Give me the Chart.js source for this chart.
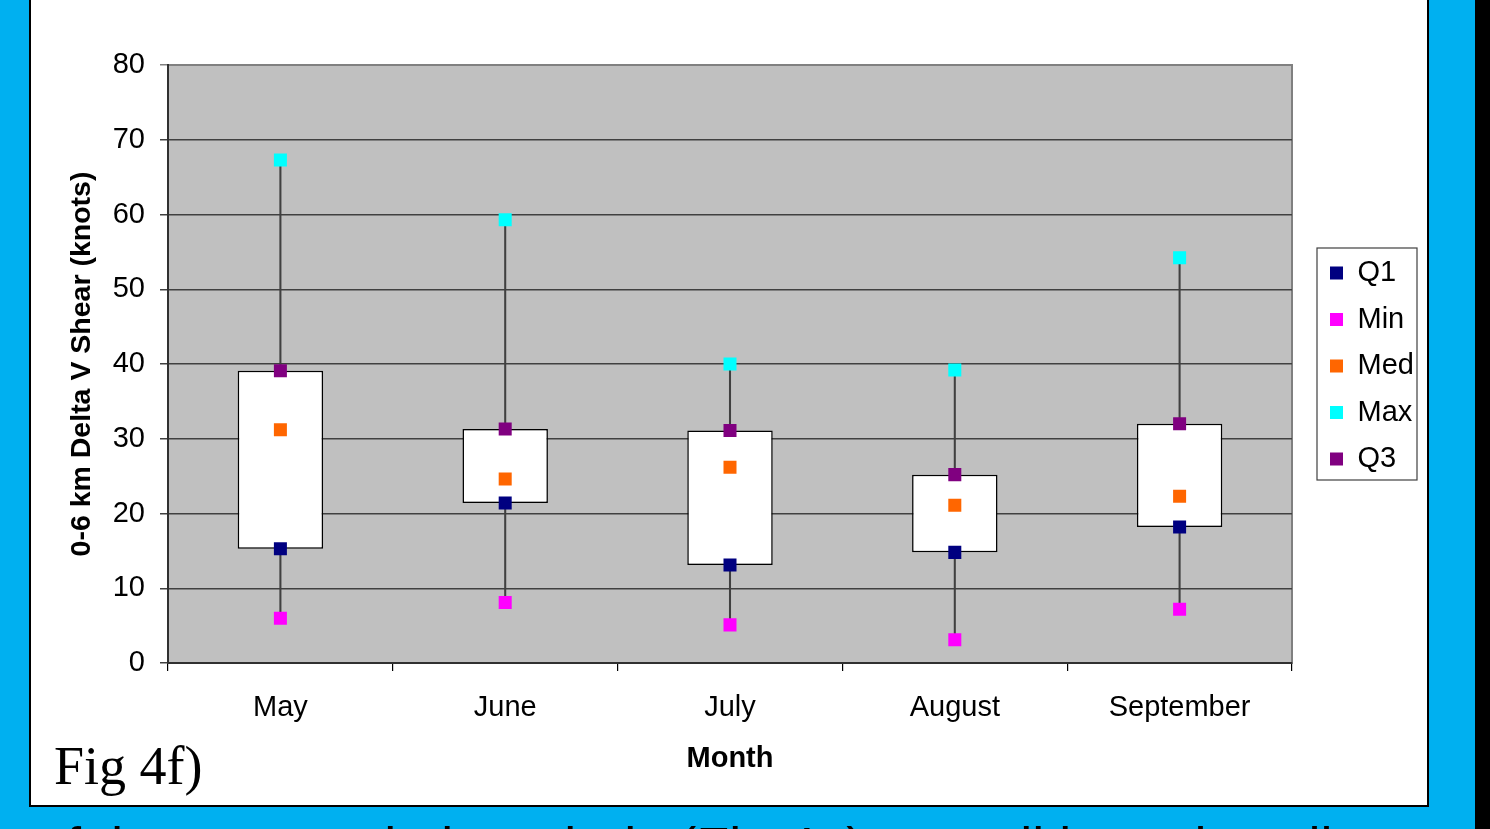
<!DOCTYPE html>
<html>
<head>
<meta charset="utf-8">
<script src="https://cdn.jsdelivr.net/npm/chart.js@4.4.1/dist/chart.umd.min.js"></script>
<style>
    body { margin:0; width:1490px; height:829px; overflow:hidden; background:#00b0f0; position:relative; font-family:"Liberation Sans", Arial, sans-serif; }
    #blackStrip { position:absolute; left:1475px; top:0; width:15px; height:829px; background:#000; }
    #panel { position:absolute; left:29px; top:-10px; width:1396px; height:813px; background:#fff; border:2px solid #000; }
    #figLabel { position:absolute; left:54px; top:736px; font-family:"Liberation Serif", "Times New Roman", serif; font-size:54px; color:#000; line-height:60px; }
    #bottomText { position:absolute; left:6px; top:816px; font-family:"Liberation Sans", Arial, sans-serif; font-size:54px; color:#000; white-space:nowrap; line-height:60px; }
    #chart { position:absolute; left:0; top:0; }
</style>
</head>
<body>
<div id="panel"></div>
<div id="figLabel">Fig 4f)</div>
<div id="bottomText">t of the storm relative winds (Fig 4e) as well it tends to lie</div>
<div id="blackStrip"></div>
<canvas id="chart" width="1490" height="829"></canvas>
<script>
var months = ["May", "June", "July", "August", "September"];
var q1Vals  = [15.3, 21.4, 13.1, 14.8, 18.2];
var minVals = [6.0, 8.1, 5.1, 3.1, 7.2];
var medVals = [31.2, 24.6, 26.2, 21.1, 22.3];
var maxVals = [67.3, 59.3, 40.0, 39.2, 54.2];
var q3Vals  = [39.1, 31.3, 31.1, 25.2, 32.0];
var yTicks  = [0, 10, 20, 30, 40, 50, 60, 70, 80];

var fontFam = "'Liberation Sans', Arial, sans-serif";

function pointSet(label, vals, color){
    return {
        type: 'line',
        label: label,
        data: vals,
        showLine: false,
        pointStyle: 'rect',
        pointRadius: 9.2,
        pointBorderWidth: 0,
        borderWidth: 0,
        backgroundColor: color,
        borderColor: color,
        order: 0
    };
}

var plotBg = {
    id: 'plotBg',
    beforeDraw: function(chart){
        var a = chart.chartArea, ctx = chart.ctx;
        ctx.save();
        ctx.fillStyle = '#c0c0c0';
        ctx.fillRect(a.left, a.top, a.right - a.left, a.bottom - a.top);
        ctx.strokeStyle = '#808080';
        ctx.lineWidth = 2;
        ctx.strokeRect(a.left, a.top, a.right - a.left, a.bottom - a.top);
        ctx.restore();
    }
};

var legendBorder = {
    id: 'legendBorder',
    afterDraw: function(chart){
        var hb = chart.legend.legendHitBoxes;
        if(!hb || !hb.length) return;
        var first = hb[0], last = hb[hb.length - 1];
        var ctx = chart.ctx;
        var x0 = first.left - 13;
        var y0 = first.top + first.height / 2 - 25;
        var y1 = last.top + last.height / 2 + 21;
        ctx.save();
        ctx.strokeStyle = '#404040';
        ctx.lineWidth = 1.2;
        ctx.strokeRect(x0, y0, 100, y1 - y0);
        ctx.restore();
    }
};

var config = {
    type: 'bar',
    data: {
        labels: months,
        datasets: [
            {
                label: 'whisker',
                data: months.map(function(m, i){ return [minVals[i], maxVals[i]]; }),
                backgroundColor: '#404040',
                barThickness: 1.4,
                grouped: false,
                order: 3
            },
            {
                label: 'box',
                data: months.map(function(m, i){ return [q1Vals[i], q3Vals[i]]; }),
                backgroundColor: '#ffffff',
                borderColor: '#000000',
                borderWidth: 1.5,
                borderSkipped: false,
                barPercentage: 0.38,
                categoryPercentage: 1,
                grouped: false,
                order: 2
            },
            pointSet('Q1', q1Vals, '#000080'),
            pointSet('Min', minVals, '#ff00ff'),
            pointSet('Med', medVals, '#ff6600'),
            pointSet('Max', maxVals, '#00ffff'),
            pointSet('Q3', q3Vals, '#800080')
        ]
    },
    options: {
        responsive: false,
        animation: false,
        events: [],
        devicePixelRatio: 1,
        layout: { padding: { left: 65, top: 65, right: 77.5, bottom: 53 } },
        plugins: {
            tooltip: { enabled: false },
            legend: {
                position: 'right',
                align: 'start',
                maxWidth: 100,
                title: { display: true, text: ' ', font: { size: 2 }, padding: { top: 173.6, bottom: 0 } },
                labels: {
                    usePointStyle: true,
                    boxWidth: 13,
                    boxHeight: 13,
                    padding: 17.5,
                    color: '#000',
                    font: { family: fontFam, size: 29 },
                    filter: function(item){ return item.text !== 'whisker' && item.text !== 'box'; }
                }
            }
        },
        scales: {
            x: {
                offset: true,
                grid: { offset: true, drawOnChartArea: false, tickLength: 8, color: '#000', lineWidth: 1.2 },
                border: { color: '#303030', width: 2 },
                ticks: { color: '#000', font: { family: fontFam, size: 29 }, padding: 20, maxRotation: 0 },
                title: { display: true, text: 'Month', color: '#000', font: { family: fontFam, size: 29, weight: 'bold' }, padding: 0 },
                afterFit: function(s){ s.height = 113; }
            },
            y: {
                min: 0,
                max: 80,
                afterBuildTicks: function(s){ s.ticks = yTicks.map(function(v){ return { value: v }; }); },
                grid: {
                    tickLength: 8,
                    lineWidth: 1.5,
                    color: function(c){ return c.tick && c.tick.value === 80 ? '#808080' : '#404040'; }
                },
                border: { color: '#303030', width: 2 },
                ticks: { color: '#000', font: { family: fontFam, size: 29 }, padding: 15 },
                title: { display: true, text: '0-6 km Delta V Shear (knots)', color: '#000', font: { family: fontFam, size: 28.5, weight: 'bold' }, padding: 0 },
                afterFit: function(s){ s.width = 103; }
            },
            gap: {
                position: 'right',
                display: true,
                min: 0,
                max: 80,
                grid: { display: false },
                ticks: { display: false },
                border: { display: false },
                afterFit: function(s){ s.width = 20.5; }
            }
        }
    },
    plugins: [plotBg, legendBorder]
};

new Chart(document.getElementById('chart').getContext('2d'), config);
</script>
</body>
</html>
